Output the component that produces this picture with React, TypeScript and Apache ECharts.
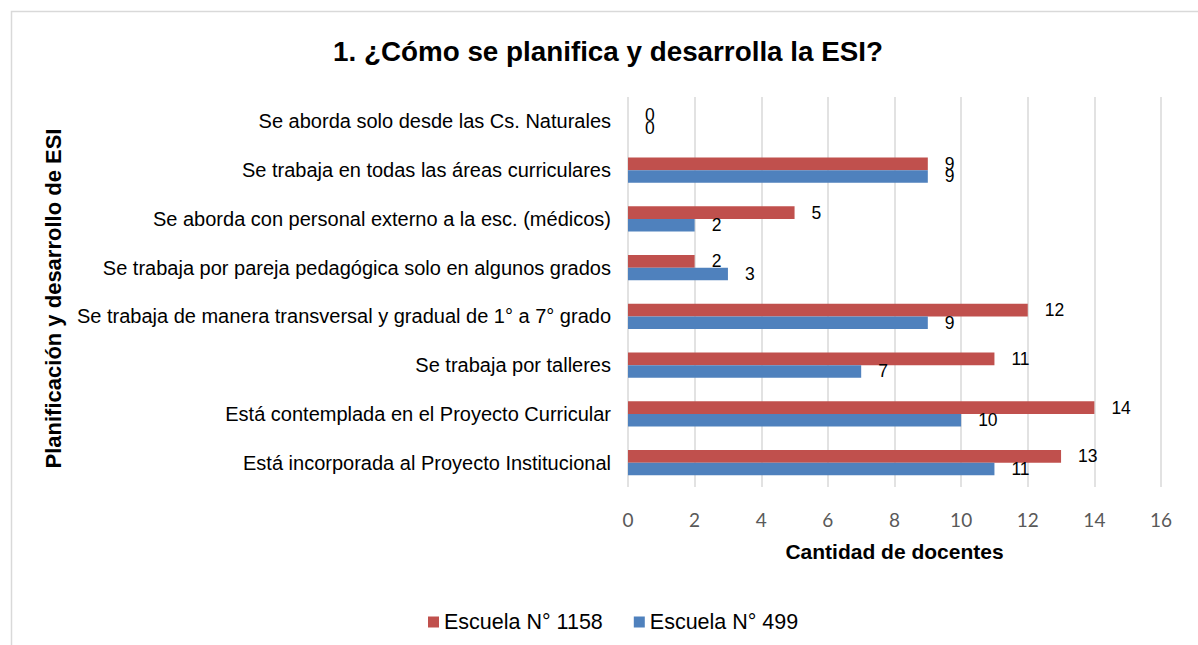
import React, { useEffect, useRef } from "react";
import * as echarts from "echarts";

const categories = [
  "Está incorporada al Proyecto Institucional",
  "Está contemplada en el Proyecto Curricular",
  "Se trabaja por talleres",
  "Se trabaja de manera transversal y gradual de 1° a 7° grado",
  "Se trabaja por pareja pedagógica solo en algunos grados",
  "Se aborda con personal externo a la esc. (médicos)",
  "Se trabaja en todas las áreas curriculares",
  "Se aborda solo desde las Cs. Naturales",
];
const escuela1158 = [13, 14, 11, 12, 2, 5, 9, 0];
const escuela499 = [11, 10, 7, 9, 3, 2, 9, 0];
const seriesNames = ["Escuela N° 1158", "Escuela N° 499"];
const title = "1. ¿Cómo se planifica y desarrolla la ESI?";
const xAxisTitle = "Cantidad de docentes";
const yAxisTitle = "Planificación y desarrollo de ESI";

export default function App() {
  const ref = useRef<HTMLDivElement>(null);
  useEffect(() => {
    if (!ref.current) return;
    const chart = echarts.init(ref.current, null, { renderer: "svg" });
    const font = "Arial, 'Liberation Sans', sans-serif";
    const label = {
      show: true,
      position: "right",
      distance: 17,
      fontFamily: font,
      fontSize: 17.5,
      color: "#000",
    };
    chart.setOption({
      animation: false,
      backgroundColor: "#fff",
      textStyle: { fontFamily: font },
      title: {
        text: title,
        left: 603,
        textAlign: "center",
        top: 32,
        textStyle: { fontFamily: font, fontSize: 27.8, fontWeight: "bold", color: "#000" },
      },
      legend: {
        data: seriesNames,
        left: 423,
        top: 606,
        itemWidth: 11,
        itemHeight: 11,
        itemGap: 31,
        icon: "rect",
        textStyle: { fontFamily: font, fontSize: 21.5, color: "#000" },
      },
      graphic: [
        {
          type: "rect",
          shape: { x: 11.5, y: 11.5, width: 1200, height: 700 },
          style: { fill: "none", stroke: "#d9d9d9", lineWidth: 1.5 },
          silent: true,
        },
      ],
      grid: { left: 628, right: 37, top: 97, bottom: 158, containLabel: false },
      xAxis: {
        type: "value",
        min: 0,
        max: 16,
        interval: 2,
        name: xAxisTitle,
        nameLocation: "middle",
        nameGap: 54,
        nameTextStyle: { fontFamily: font, fontSize: 21, fontWeight: "bold", color: "#000" },
        axisLine: { show: false },
        axisTick: { show: false },
        axisLabel: { fontFamily: "Lato, 'Open Sans', sans-serif", fontSize: 19, color: "#595959", margin: 23 },
        splitLine: { show: true, lineStyle: { color: "#d9d9d9", width: 1.5 } },
      },
      yAxis: {
        type: "category",
        data: categories,
        name: yAxisTitle,
        nameLocation: "middle",
        nameRotate: 90,
        nameGap: 564,
        nameTextStyle: {
          fontFamily: font,
          fontSize: 22,
          fontWeight: "bold",
          color: "#000",
          padding: [0, 13, 0, 0],
        },
        axisLine: { show: false },
        axisTick: { show: false },
        axisLabel: { fontFamily: font, fontSize: 20, color: "#000", margin: 17 },
        splitLine: { show: false },
      },
      series: [
        {
          name: seriesNames[0],
          type: "bar",
          data: escuela1158,
          barWidth: 12.7,
          barGap: "0%",
          itemStyle: { color: "#C0504D" },
          label,
        },
        {
          name: seriesNames[1],
          type: "bar",
          data: escuela499,
          barWidth: 12.7,
          barGap: "0%",
          itemStyle: { color: "#4F81BD" },
          label,
        },
      ],
    });
    return () => chart.dispose();
  }, []);
  return (
    <div
      ref={ref}
      style={{ position: "fixed", left: 0, top: 0, width: 1198, height: 645 }}
    />
  );
}
